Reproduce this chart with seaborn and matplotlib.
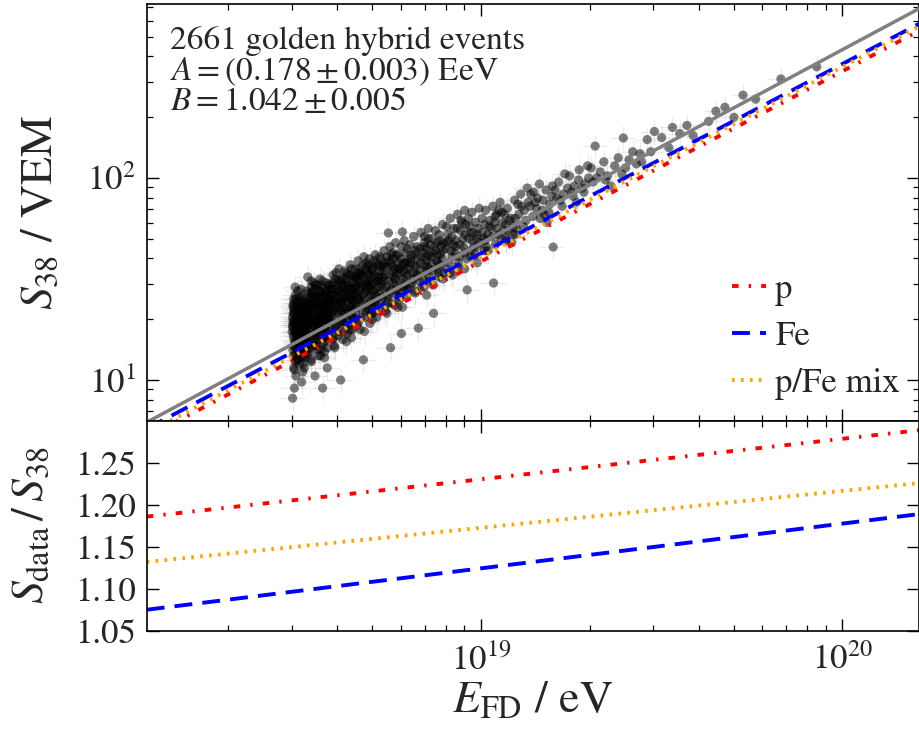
import numpy as np
import pandas as pd
import matplotlib
matplotlib.use("Agg")
import matplotlib.pyplot as plt
import seaborn as sns

# ---------------- data ----------------
# events as (log10(E_FD/eV), log10(S38/VEM)), grouped by energy bins
events_1845 = [
    (18.479, 1.31), (18.481, 1.22), (18.483, 1.38), (18.480, 1.15), (18.485, 1.27), (18.487, 1.09), (18.482, 1.33), (18.490, 1.24), (18.492, 1.19), (18.486, 1.42),
    (18.494, 1.29), (18.496, 1.13), (18.491, 1.35), (18.498, 1.26), (18.500, 1.21), (18.488, 1.02), (18.503, 1.30), (18.505, 1.17), (18.501, 1.39), (18.507, 1.25),
    (18.484, 0.96), (18.509, 1.33), (18.511, 1.20), (18.493, 1.44), (18.513, 1.28), (18.515, 1.11), (18.497, 1.36), (18.517, 1.23), (18.519, 1.31), (18.489, 1.18),
    (18.480, 1.29), (18.482, 1.06), (18.495, 1.26), (18.506, 1.40), (18.512, 1.14), (18.518, 1.37), (18.478, 1.24), (18.504, 0.99), (18.499, 1.32), (18.510, 1.27),
    (18.483, 1.20), (18.516, 1.22), (18.487, 1.34), (18.508, 1.08), (18.514, 1.30), (18.520, 1.19), (18.491, 1.28), (18.502, 1.23), (18.479, 0.91), (18.497, 1.16),
    (18.481, 1.36), (18.485, 1.12), (18.489, 1.25), (18.493, 1.30), (18.499, 1.41), (18.503, 1.21), (18.507, 1.04), (18.511, 1.35), (18.515, 1.27), (18.519, 1.15),
    (18.480, 1.26), (18.484, 1.30), (18.488, 1.23), (18.492, 1.33), (18.496, 1.20), (18.500, 1.29), (18.504, 1.25), (18.508, 1.32), (18.512, 1.24), (18.516, 1.34),
    (18.482, 1.28), (18.486, 1.19), (18.490, 1.31), (18.494, 1.24), (18.498, 1.35), (18.502, 1.27), (18.506, 1.22), (18.510, 1.30), (18.514, 1.19), (18.518, 1.28),
    (18.481, 1.33), (18.489, 1.27), (18.497, 1.22), (18.505, 1.34), (18.513, 1.25), (18.483, 1.17), (18.491, 1.38), (18.499, 1.28), (18.507, 1.31), (18.515, 1.36),
    (18.479, 1.27), (18.483, 1.35), (18.487, 1.29), (18.491, 1.22), (18.495, 1.33), (18.499, 1.18), (18.503, 1.36), (18.507, 1.28), (18.511, 1.23), (18.515, 1.31),
    (18.519, 1.39), (18.480, 1.37), (18.484, 1.24), (18.488, 1.40), (18.492, 1.27), (18.496, 1.37), (18.500, 1.25), (18.504, 1.41), (18.508, 1.20), (18.512, 1.38),
    (18.516, 1.17), (18.520, 1.33), (18.486, 1.46), (18.494, 1.10), (18.502, 1.45), (18.510, 1.12), (18.518, 1.44), (18.482, 1.40), (18.490, 1.15), (18.498, 1.30),
    (18.481, 1.12), (18.486, 1.16), (18.490, 1.10), (18.495, 1.14), (18.500, 1.17), (18.505, 1.11), (18.510, 1.15), (18.515, 1.18), (18.519, 1.13), (18.484, 1.05),
    (18.498, 1.08), (18.512, 1.06),
]
events_1852 = [
    (18.522, 1.33), (18.525, 1.24), (18.528, 1.41), (18.531, 1.29), (18.534, 1.18), (18.537, 1.36), (18.540, 1.27), (18.543, 1.45), (18.546, 1.31), (18.549, 1.22),
    (18.552, 1.38), (18.555, 1.30), (18.558, 1.15), (18.561, 1.42), (18.564, 1.34), (18.567, 1.26), (18.570, 1.39), (18.573, 1.21), (18.576, 1.35), (18.579, 1.29),
    (18.524, 1.37), (18.530, 1.10), (18.536, 1.31), (18.542, 1.23), (18.548, 1.40), (18.554, 1.26), (18.560, 1.33), (18.566, 1.19), (18.572, 1.44), (18.578, 1.32),
    (18.527, 1.28), (18.533, 1.43), (18.539, 1.20), (18.545, 1.35), (18.551, 1.28), (18.557, 1.47), (18.563, 1.24), (18.569, 1.31), (18.575, 1.06), (18.521, 1.51),
    (18.562, 1.455), (18.562, 0.96), (18.541, 1.02), (18.556, 1.12), (18.538, 1.48), (18.574, 1.48), (18.529, 1.16), (18.547, 1.25), (18.565, 1.37), (18.577, 1.22),
    (18.523, 1.30), (18.529, 1.35), (18.535, 1.27), (18.541, 1.38), (18.547, 1.33), (18.553, 1.29), (18.559, 1.37), (18.565, 1.30), (18.571, 1.34), (18.577, 1.39),
    (18.526, 1.39), (18.532, 1.26), (18.538, 1.33), (18.544, 1.29), (18.550, 1.36), (18.556, 1.32), (18.562, 1.40), (18.568, 1.28), (18.574, 1.36), (18.580, 1.33),
    (18.534, 1.44), (18.552, 1.20), (18.570, 1.25), (18.546, 1.42), (18.528, 1.32),
    (18.521, 1.36), (18.527, 1.22), (18.533, 1.38), (18.539, 1.31), (18.545, 1.24), (18.551, 1.41), (18.557, 1.34), (18.563, 1.29), (18.569, 1.43), (18.575, 1.31),
    (18.524, 1.27), (18.530, 1.41), (18.536, 1.36), (18.542, 1.47), (18.548, 1.29), (18.554, 1.44), (18.560, 1.25), (18.566, 1.35), (18.572, 1.30), (18.578, 1.45),
    (18.531, 1.49), (18.543, 1.17), (18.555, 1.50), (18.567, 1.14), (18.579, 1.38),
    (18.523, 1.43), (18.531, 1.46), (18.539, 1.41), (18.547, 1.47), (18.555, 1.44), (18.563, 1.49), (18.571, 1.42), (18.579, 1.47), (18.527, 1.37), (18.543, 1.40),
    (18.559, 1.38), (18.575, 1.41),
    (18.522, 1.19), (18.528, 1.14), (18.534, 1.22), (18.540, 1.17), (18.546, 1.20), (18.552, 1.15), (18.558, 1.23), (18.564, 1.18), (18.570, 1.21), (18.576, 1.16),
    (18.531, 1.09), (18.549, 1.12), (18.567, 1.11),
]
events_1858 = [
    (18.582, 1.37), (18.586, 1.30), (18.590, 1.45), (18.594, 1.35), (18.598, 1.26), (18.602, 1.41), (18.606, 1.33), (18.610, 1.49), (18.614, 1.38), (18.618, 1.29),
    (18.622, 1.44), (18.626, 1.36), (18.630, 1.23), (18.634, 1.47), (18.638, 1.40), (18.642, 1.32), (18.646, 1.46), (18.650, 1.37), (18.584, 1.42), (18.592, 1.21),
    (18.600, 1.38), (18.608, 1.28), (18.616, 1.43), (18.624, 1.31), (18.632, 1.39), (18.640, 1.52), (18.648, 1.30), (18.588, 1.34), (18.604, 1.47), (18.620, 1.36),
    (18.636, 1.27), (18.612, 1.00), (18.596, 1.16), (18.628, 1.19), (18.644, 1.42), (18.581, 1.29), (18.597, 1.50), (18.613, 1.34), (18.629, 1.53), (18.645, 1.25),
    (18.583, 1.39), (18.589, 1.33), (18.595, 1.42), (18.601, 1.36), (18.607, 1.44), (18.613, 1.38), (18.619, 1.33), (18.625, 1.41), (18.631, 1.35), (18.637, 1.45),
    (18.643, 1.38), (18.649, 1.42), (18.586, 1.45), (18.598, 1.39), (18.610, 1.35), (18.622, 1.47), (18.634, 1.34), (18.646, 1.40), (18.592, 1.36), (18.616, 1.40),
    (18.585, 1.40), (18.591, 1.48), (18.597, 1.31), (18.603, 1.44), (18.609, 1.39), (18.615, 1.47), (18.621, 1.40), (18.627, 1.50), (18.633, 1.43), (18.639, 1.36),
    (18.645, 1.48), (18.587, 1.26), (18.599, 1.53), (18.611, 1.42), (18.623, 1.27), (18.635, 1.52), (18.647, 1.35), (18.594, 1.39), (18.606, 1.24), (18.618, 1.51),
    (18.630, 1.44), (18.642, 1.55),
    (18.583, 1.47), (18.591, 1.52), (18.599, 1.45), (18.607, 1.55), (18.615, 1.50), (18.623, 1.54), (18.631, 1.48), (18.639, 1.57), (18.647, 1.51), (18.587, 1.42),
    (18.603, 1.49), (18.619, 1.46), (18.635, 1.41), (18.643, 1.45),
    (18.582, 1.24), (18.590, 1.20), (18.598, 1.27), (18.606, 1.22), (18.614, 1.29), (18.622, 1.24), (18.630, 1.30), (18.638, 1.25), (18.646, 1.31), (18.594, 1.17),
    (18.618, 1.20), (18.642, 1.21),
]
events_1865 = [
    (18.652, 1.43), (18.656, 1.36), (18.660, 1.50), (18.664, 1.40), (18.668, 1.31), (18.672, 1.47), (18.676, 1.39), (18.680, 1.54), (18.684, 1.44), (18.688, 1.35),
    (18.692, 1.49), (18.696, 1.42), (18.700, 1.30), (18.704, 1.52), (18.708, 1.45), (18.712, 1.37), (18.716, 1.51), (18.720, 1.43), (18.675, 1.10), (18.658, 1.27),
    (18.666, 1.46), (18.674, 1.57), (18.682, 1.34), (18.690, 1.41), (18.698, 1.55), (18.706, 1.38), (18.714, 1.46), (18.662, 1.53), (18.678, 1.24), (18.694, 1.33),
    (18.710, 1.58), (18.654, 1.39), (18.686, 1.48), (18.702, 1.44),
    (18.653, 1.45), (18.661, 1.40), (18.669, 1.48), (18.677, 1.43), (18.685, 1.50), (18.693, 1.45), (18.701, 1.48), (18.709, 1.42), (18.717, 1.49), (18.657, 1.49),
    (18.673, 1.42), (18.689, 1.46), (18.705, 1.51), (18.665, 1.44), (18.697, 1.39),
    (18.655, 1.47), (18.663, 1.55), (18.671, 1.38), (18.679, 1.49), (18.687, 1.53), (18.695, 1.47), (18.703, 1.56), (18.711, 1.49), (18.719, 1.54), (18.659, 1.42),
    (18.667, 1.52), (18.683, 1.58), (18.699, 1.36), (18.715, 1.41), (18.691, 1.52), (18.707, 1.34), (18.681, 1.46), (18.651, 1.51),
    (18.652, 1.55), (18.660, 1.59), (18.668, 1.53), (18.676, 1.61), (18.684, 1.56), (18.692, 1.60), (18.700, 1.54), (18.708, 1.62), (18.716, 1.57), (18.656, 1.51),
    (18.672, 1.52), (18.688, 1.57), (18.704, 1.59), (18.720, 1.61),
    (18.653, 1.33), (18.662, 1.29), (18.671, 1.35), (18.680, 1.31), (18.689, 1.37), (18.698, 1.33), (18.707, 1.39), (18.716, 1.35), (18.666, 1.25), (18.693, 1.28),
    (18.712, 1.31),
]
events_1872 = [
    (18.723, 1.49), (18.728, 1.41), (18.733, 1.56), (18.738, 1.46), (18.743, 1.38), (18.748, 1.52), (18.753, 1.45), (18.758, 1.60), (18.763, 1.50), (18.768, 1.42),
    (18.773, 1.55), (18.778, 1.48), (18.783, 1.36), (18.788, 1.58), (18.793, 1.51), (18.798, 1.45), (18.744, 1.728), (18.783, 1.733), (18.750, 1.16), (18.780, 1.23),
    (18.726, 1.53), (18.736, 1.34), (18.746, 1.59), (18.756, 1.48), (18.766, 1.62), (18.776, 1.40), (18.786, 1.54), (18.796, 1.59), (18.731, 1.45), (18.761, 1.37),
    (18.725, 1.47), (18.735, 1.52), (18.745, 1.49), (18.755, 1.54), (18.765, 1.47), (18.775, 1.53), (18.785, 1.50), (18.795, 1.55), (18.740, 1.56), (18.770, 1.58),
    (18.760, 1.51), (18.790, 1.47),
    (18.727, 1.51), (18.737, 1.58), (18.747, 1.44), (18.757, 1.56), (18.767, 1.52), (18.777, 1.60), (18.787, 1.46), (18.797, 1.52), (18.732, 1.49), (18.752, 1.62),
    (18.772, 1.44), (18.792, 1.63), (18.742, 1.41), (18.762, 1.55), (18.782, 1.57), (18.722, 1.56),
    (18.724, 1.60), (18.732, 1.64), (18.740, 1.61), (18.748, 1.66), (18.756, 1.63), (18.764, 1.68), (18.772, 1.62), (18.780, 1.66), (18.788, 1.69), (18.796, 1.65),
    (18.728, 1.57), (18.752, 1.58), (18.776, 1.55), (18.792, 1.58),
    (18.725, 1.40), (18.735, 1.37), (18.745, 1.42), (18.755, 1.38), (18.765, 1.44), (18.775, 1.41), (18.785, 1.46), (18.795, 1.42), (18.740, 1.33), (18.770, 1.36),
]
events_1880 = [
    (18.803, 1.55), (18.809, 1.48), (18.815, 1.62), (18.821, 1.52), (18.827, 1.257), (18.833, 1.58), (18.839, 1.50), (18.845, 1.66), (18.851, 1.56), (18.857, 1.49),
    (18.863, 1.61), (18.869, 1.33), (18.875, 1.64), (18.881, 1.55), (18.887, 1.69), (18.893, 1.60), (18.899, 1.53), (18.806, 1.60), (18.818, 1.44), (18.830, 1.65),
    (18.842, 1.57), (18.854, 1.70), (18.866, 1.54), (18.878, 1.59), (18.890, 1.66), (18.812, 1.53), (18.836, 1.46), (18.860, 1.67), (18.884, 1.51), (18.848, 1.61),
    (18.805, 1.58), (18.820, 1.56), (18.835, 1.61), (18.850, 1.59), (18.865, 1.63), (18.880, 1.62), (18.895, 1.64), (18.825, 1.52), (18.857, 1.55), (18.888, 1.57),
    (18.808, 1.62), (18.816, 1.57), (18.824, 1.60), (18.832, 1.54), (18.840, 1.63), (18.848, 1.54), (18.856, 1.62), (18.864, 1.58), (18.872, 1.66), (18.880, 1.58),
    (18.888, 1.62), (18.896, 1.68), (18.844, 1.71), (18.814, 1.50),
    (18.804, 1.67), (18.814, 1.71), (18.824, 1.66), (18.834, 1.73), (18.844, 1.68), (18.854, 1.75), (18.864, 1.70), (18.874, 1.74), (18.884, 1.72), (18.894, 1.77),
    (18.819, 1.64), (18.849, 1.65), (18.879, 1.68),
    (18.805, 1.47), (18.818, 1.43), (18.830, 1.49), (18.843, 1.46), (18.856, 1.51), (18.869, 1.47), (18.882, 1.53), (18.895, 1.50), (18.850, 1.42),
]
events_1890 = [
    (18.904, 1.65), (18.912, 1.58), (18.920, 1.71), (18.928, 1.63), (18.936, 1.56), (18.944, 1.74), (18.952, 1.66), (18.960, 1.60), (18.968, 1.76), (18.976, 1.69),
    (18.984, 1.62), (18.992, 1.75), (18.998, 1.68), (18.962, 1.446), (18.908, 1.72), (18.924, 1.67), (18.940, 1.61), (18.956, 1.72), (18.972, 1.64), (18.988, 1.70),
    (18.916, 1.53), (18.948, 1.78),
    (18.906, 1.68), (18.918, 1.64), (18.930, 1.69), (18.942, 1.67), (18.954, 1.63), (18.966, 1.70), (18.978, 1.73), (18.990, 1.66), (18.934, 1.75), (18.958, 1.77),
    (18.905, 1.76), (18.915, 1.80), (18.925, 1.75), (18.935, 1.82), (18.945, 1.79), (18.955, 1.84), (18.965, 1.80), (18.975, 1.83), (18.985, 1.78), (18.995, 1.85),
    (18.910, 1.69), (18.930, 1.66), (18.950, 1.70), (18.970, 1.73), (18.990, 1.72), (18.920, 1.61), (18.980, 1.66),
    (18.905, 1.55), (18.922, 1.52), (18.938, 1.58), (18.955, 1.55), (18.972, 1.61), (18.990, 1.58),
]
events_1900 = [
    (19.005, 1.73), (19.015, 1.66), (19.025, 1.79), (19.035, 1.48), (19.045, 1.75), (19.055, 1.70), (19.065, 1.82), (19.075, 1.74), (19.085, 1.68), (19.095, 1.80),
    (19.010, 1.77), (19.030, 1.71), (19.050, 1.84), (19.070, 1.69), (19.090, 1.76), (19.020, 1.64), (19.060, 1.78),
    (19.008, 1.70), (19.028, 1.75), (19.048, 1.72), (19.068, 1.77), (19.088, 1.72), (19.040, 1.81),
    (19.003, 1.80), (19.013, 1.84), (19.023, 1.76), (19.033, 1.86), (19.043, 1.82), (19.053, 1.88), (19.063, 1.74), (19.073, 1.85), (19.083, 1.80), (19.093, 1.89),
    (19.018, 1.72), (19.038, 1.78), (19.058, 1.83), (19.078, 1.79), (19.098, 1.75), (19.012, 1.69),
    (19.010, 1.64), (19.040, 1.67), (19.070, 1.70), (19.095, 1.72),
]
events_1910 = [
    (19.105, 1.82), (19.118, 1.76), (19.131, 1.88), (19.144, 1.81), (19.157, 1.90), (19.170, 1.84), (19.183, 1.78), (19.196, 1.91), (19.112, 1.86), (19.138, 1.92),
    (19.164, 1.80), (19.190, 1.87),
    (19.102, 1.87), (19.110, 1.92), (19.120, 1.84), (19.128, 1.95), (19.136, 1.86), (19.146, 1.93), (19.154, 1.85), (19.162, 1.97), (19.172, 1.89), (19.180, 1.94),
    (19.188, 1.83), (19.198, 1.96), (19.125, 1.79), (19.150, 1.88), (19.175, 1.82),
]
events_1920 = [
    (19.200, 1.658), (19.210, 1.90), (19.225, 1.86), (19.240, 1.95), (19.255, 1.91), (19.270, 1.99), (19.285, 1.93), (19.298, 2.00), (19.232, 2.02), (19.265, 1.88),
    (19.205, 1.94), (19.215, 1.98), (19.228, 1.92), (19.245, 2.01), (19.258, 1.96), (19.272, 2.04), (19.288, 1.97), (19.295, 2.06), (19.220, 1.89), (19.250, 1.93),
    (19.280, 1.95),
]
events_1930 = [
    (19.316, 2.158), (19.394, 2.198), (19.31, 1.98), (19.33, 2.03), (19.35, 2.01), (19.37, 2.06), (19.39, 2.02), (19.41, 2.09), (19.43, 2.07), (19.44, 2.12), (19.36, 1.96),
    (19.305, 2.05), (19.320, 2.00), (19.340, 2.08), (19.345, 1.99), (19.380, 2.10), (19.400, 2.05), (19.420, 2.13), (19.445, 2.08),
]
events_1945 = [
    (19.46, 2.19), (19.48, 2.23), (19.50, 2.20), (19.53, 2.25), (19.55, 2.22), (19.57, 2.26), (19.587, 2.21), (19.52, 2.15), (19.47, 2.13),
]
events_1960 = [
    (19.63, 2.28), (19.675, 2.35), (19.70, 2.30), (19.725, 2.41), (19.76, 2.39), (19.83, 2.49), (19.929, 2.55), (19.65, 2.33),
]

# relative uncertainties of the events (error bars)
rel_err_E = 0.08
rel_err_S = 0.14

# straight lines (end points)
E_line = [1.19e18, 1.63e20]          # eV
S_fit = [6.18, 689.0]                # fitted calibration, VEM
S_p = [5.21, 534.5]
S_Fe = [5.75, 579.5]
S_mix = [5.46, 562.0]
ratio_p = [1.186, 1.289]
ratio_Fe = [1.075, 1.189]
ratio_mix = [1.132, 1.226]

annot_lines = ["2661 golden hybrid events",
               r"$A = (0.178 \pm 0.003)$ EeV",
               r"$B = 1.042 \pm 0.005$"]

# ---------------- style ----------------
sns.set_style("ticks")
plt.rcParams["font.family"] = ["STIXGeneral", "DejaVu Serif"]
plt.rcParams["mathtext.fontset"] = "stix"
plt.rcParams["axes.linewidth"] = 1.2
plt.rcParams["axes.edgecolor"] = "black"

all_events = (events_1845 + events_1852 + events_1858 + events_1865 + events_1872 + events_1880
              + events_1890 + events_1900 + events_1910 + events_1920 + events_1930 + events_1945 + events_1960)
df = pd.DataFrame(all_events, columns=["logE", "logS"])
df["E"] = 10 ** df["logE"]
df["S"] = 10 ** df["logS"]

fig = plt.figure(figsize=(9.2, 7.31), dpi=100)
ax1 = fig.add_axes([0.1595, 0.4241, 0.8395, 0.5704])
ax2 = fig.add_axes([0.1595, 0.1372, 0.8395, 0.2869], sharex=ax1)

# --- top panel ---
ax1.set_xscale("log")
ax1.set_yscale("log")
ax1.errorbar(df["E"], df["S"], xerr=df["E"] * rel_err_E, yerr=df["S"] * rel_err_S,
             fmt="none", ecolor=(0.55, 0.55, 0.55, 0.16), elinewidth=1.0, capsize=0, zorder=1)
sns.scatterplot(data=df, x="E", y="S", ax=ax1, color="black", alpha=0.5, s=44,
                edgecolor="none", legend=False, zorder=2)

lw_mod = 2.8
sns.lineplot(x=E_line, y=S_fit, ax=ax1, color="#808080", lw=2.5, zorder=3)
sns.lineplot(x=E_line, y=S_p, ax=ax1, color="red", lw=lw_mod, label="p", zorder=4)
ax1.lines[-1].set_dashes((1.7, 2.6, 0.6, 2.6))
sns.lineplot(x=E_line, y=S_Fe, ax=ax1, color="blue", lw=lw_mod, label="Fe", zorder=4)
ax1.lines[-1].set_dashes((4.6, 2.6))
sns.lineplot(x=E_line, y=S_mix, ax=ax1, color="orange", lw=lw_mod, label="p/Fe mix", zorder=4)
ax1.lines[-1].set_dashes((0.7, 1.6))

ax1.set_xlim(1.19e18, 1.63e20)
ax1.set_ylim(6.27, 726)
ax1.set_xlabel("")
ax1.set_ylabel(r"$S_{38}$ / VEM", fontsize=33)
ax1.yaxis.set_label_coords(-0.110, 0.5)
ax1.tick_params(axis="x", labelbottom=False)

for t, yy in zip(annot_lines, [0.892, 0.818, 0.746]):
    ax1.text(0.030, yy, t, transform=ax1.transAxes, fontsize=24, va="baseline", ha="left")

leg = ax1.legend(loc="lower right", bbox_to_anchor=(0.975, 0.05), frameon=False,
                 fontsize=25, handlelength=1.0, handletextpad=0.25, labelspacing=0.42,
                 borderpad=0, borderaxespad=0)

# --- bottom panel ---
sns.lineplot(x=E_line, y=ratio_p, ax=ax2, color="red", lw=lw_mod)
ax2.lines[-1].set_dashes((1.7, 2.6, 0.6, 2.6))
sns.lineplot(x=E_line, y=ratio_Fe, ax=ax2, color="blue", lw=lw_mod)
ax2.lines[-1].set_dashes((4.6, 2.6))
sns.lineplot(x=E_line, y=ratio_mix, ax=ax2, color="orange", lw=lw_mod)
ax2.lines[-1].set_dashes((0.7, 1.6))

ax2.set_xscale("log")
ax2.set_xlim(1.19e18, 1.63e20)
ax2.set_ylim(1.05, 1.30)
ax2.set_yticks([1.05, 1.10, 1.15, 1.20, 1.25])
ax2.set_yticklabels(["1.05", "1.10", "1.15", "1.20", "1.25"])
ax2.set_xlabel(r"$E_{\mathrm{FD}}$ / eV", fontsize=33, labelpad=2)
ax2.set_ylabel(r"$S_{\mathrm{data}}\,/\,S_{38}$", fontsize=33)
ax2.yaxis.set_label_coords(-0.121, 0.504)

for ax in (ax1, ax2):
    ax.tick_params(which="both", direction="in", top=True, right=True, labelsize=25,
                   color="black")
    ax.tick_params(which="major", length=8.5, width=1.0, pad=8)
    ax.tick_params(which="minor", length=4.5, width=0.9)
    for sp in ax.spines.values():
        sp.set_linewidth(1.2)
        sp.set_color("black")
ax2.tick_params(axis="y", which="minor", left=False, right=False)
ax2.tick_params(axis="x", which="major", pad=10)

fig.savefig("out.png", dpi=100)
